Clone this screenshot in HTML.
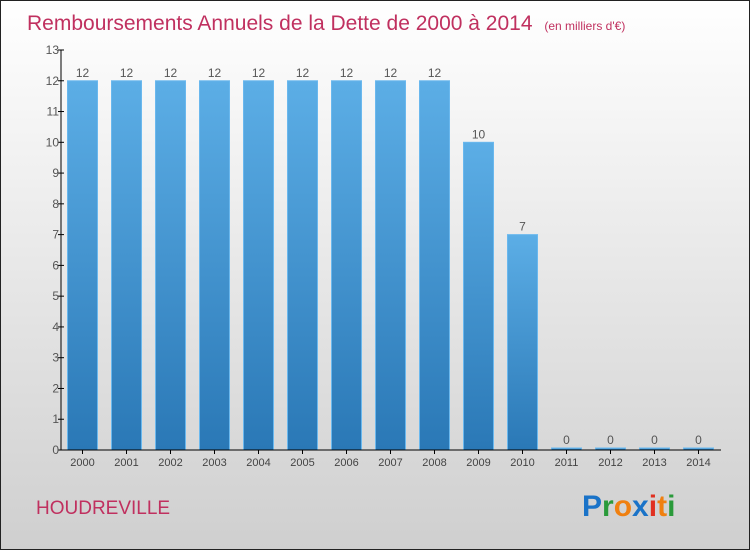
<!DOCTYPE html>
<html><head><meta charset="utf-8"><style>
body{margin:0;width:750px;height:550px;overflow:hidden;font-family:"Liberation Sans",sans-serif}
svg text{font-family:"Liberation Sans",sans-serif}
</style></head><body>
<svg id="c" width="750" height="550">
<defs>
<linearGradient id="bg" x1="0" y1="0" x2="0" y2="1"><stop offset="0" stop-color="#ffffff"/><stop offset="1" stop-color="#cfcfcf"/></linearGradient>
<linearGradient id="bar" x1="0" y1="0" x2="0" y2="1"><stop offset="0" stop-color="#5caee6"/><stop offset="1" stop-color="#2a78b6"/></linearGradient>
</defs>
<rect x="0.5" y="0.5" width="749" height="549" fill="url(#bg)" stroke="#222"/>
<text x="27" y="30" font-size="21" fill="#c0305f">Remboursements Annuels de la Dette de 2000 à 2014 <tspan font-size="12" dx="6">(en milliers d'€)</tspan></text>
<text x="36" y="514" font-size="19" fill="#c0305f">HOUDREVILLE</text>
<g font-size="30" font-family="Liberation Sans" font-weight="bold">
<text x="582" y="516"><tspan fill="#1a73c8">P</tspan><tspan fill="#2a9a3a">r</tspan><tspan fill="#f08010">o</tspan><tspan fill="#1a73c8">x</tspan><tspan fill="#e03020">i</tspan><tspan fill="#f08010">t</tspan><tspan fill="#2a9a3a">i</tspan></text>
</g>
<g id="plot"></g>
</svg>
<script>
const years=["2000","2001","2002","2003","2004","2005","2006","2007","2008","2009","2010","2011","2012","2013","2014"];
const values=[12,12,12,12,12,12,12,12,12,10,7,0,0,0,0];
const yTicks=[0,1,2,3,4,5,6,7,8,9,10,11,12,13];
const ns="http://www.w3.org/2000/svg";
const g=document.getElementById('plot');
const y0=450,yTop=50,yMax=13;
const y=v=>y0-(v/yMax)*(y0-yTop);
const x=i=>82.5+44*i;
function mk(t,a,txt){const e=document.createElementNS(ns,t);for(const k in a)e.setAttribute(k,a[k]);if(txt!==undefined)e.textContent=txt;g.appendChild(e);return e;}
values.forEach((v,i)=>{
 const h=Math.max(y0-y(v),2);
 const r=mk('rect',{x:x(i)-15,y:y0-h,width:30,height:h,fill:'url(#bar)',stroke:'#6ab8ee','stroke-width':1});
 
 
 const t=mk('text',{x:x(i),y:y0-h-4,'font-size':12,fill:'#555','text-anchor':'middle'},String(v));
 
 
 const xl=mk('text',{x:x(i),y:466,'font-size':11,fill:'#444','text-anchor':'middle'},years[i]);
 
 
 const tk=mk('line',{x1:x(i),x2:x(i),y1:y0,y2:y0+4,stroke:'#000'});
 
 
});
yTicks.forEach(v=>{
 const tk=mk('line',{x1:58,x2:64,y1:y(v),y2:y(v),stroke:'#000'});
 
 
 const l=mk('text',{x:59,y:y(v)+4,'font-size':12,fill:'#555','text-anchor':'end'},String(v));
 
 
});
const ya=mk('line',{x1:61,x2:61,y1:yTop,y2:y0,stroke:'#000'});


const xa=mk('line',{x1:61,x2:721,y1:y0,y2:y0,stroke:'#000'});


</script>
</body></html>
